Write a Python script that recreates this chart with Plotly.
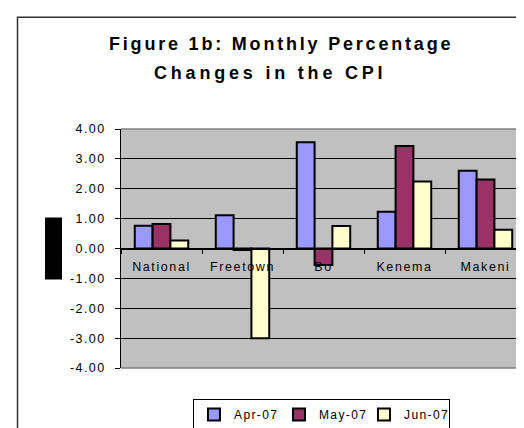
import plotly.graph_objects as go

categories = ["National", "Freetown", "Bo", "Kenema", "Makeni"]
series_names = ["Apr-07", "May-07", "Jun-07"]
apr_07 = [0.76, 1.11, 3.56, 1.23, 2.60]
may_07 = [0.82, -0.05, -0.55, 3.43, 2.31]
jun_07 = [0.27, -3.00, 0.75, 2.24, 0.63]
series_values = [apr_07, may_07, jun_07]
series_colors = ["#9999FF", "#993366", "#FFFFCC"]
y_tick_values = [-4, -3, -2, -1, 0, 1, 2, 3, 4]
y_tick_labels = ["-4.00", "-3.00", "-2.00", "-1.00", "0.00", "1.00", "2.00", "3.00", "4.00"]
title_lines = ["Figure 1b: Monthly Percentage", "Changes in the CPI"]

W, H = 524, 428
L, R, T, B = 113, 6, 121, 61
pw, ph = W - L - R, H - T - B

def px(x):
    return (x - L) / pw

def py(y):
    return (H - B - y) / ph

def spaced(s, ls):
    return '<span style="letter-spacing:%.1fpx">%s</span>' % (ls, s)

FONT = "Liberation Sans, Arial, sans-serif"

fig = go.Figure()
for name, vals, col in zip(series_names, series_values, series_colors):
    fig.add_trace(go.Bar(
        x=categories, y=vals, name=spaced(name, 1.4),
        marker=dict(color=col, line=dict(color="black", width=2)),
    ))

fig.update_layout(
    width=W, height=H,
    margin=dict(l=L, r=R, t=T, b=B, pad=0),
    paper_bgcolor="white",
    plot_bgcolor="#C0C0C0",
    barmode="group",
    bargap=0.34,
    bargroupgap=0,
    font=dict(family=FONT, size=12, color="black"),
    showlegend=True,
    legend=dict(
        orientation="h", x=0.495, xanchor="center", y=py(399), yanchor="top",
        bordercolor="black", borderwidth=1, bgcolor="white",
        font=dict(family=FONT, size=12, color="black"),
        itemwidth=30, entrywidth=40, entrywidthmode="pixels",
    ),
    xaxis=dict(
        anchor="free", position=0.5,
        showline=True, linecolor="black", linewidth=1,
        ticks="outside", ticklen=4, tickcolor="black", tickson="boundaries",
        tickvals=categories, ticktext=[spaced(c, 1.6) for c in categories],
        ticklabelstandoff=6,
        showgrid=False, zeroline=False,
        tickfont=dict(family=FONT, size=12.5, color="black"),
    ),
    yaxis=dict(
        range=[-4, 4],
        tickvals=y_tick_values, ticktext=[spaced(t, 1.4) for t in y_tick_labels],
        showline=True, linecolor="black", linewidth=1,
        ticks="outside", ticklen=5, tickcolor="black",
        ticklabelstandoff=7,
        showgrid=True, gridcolor="black", gridwidth=1,
        zeroline=True, zerolinecolor="black", zerolinewidth=1,
        tickfont=dict(family=FONT, size=12.5, color="black"),
    ),
)

# Plot area border (grey top, right and bottom edges)
for (x0, y0, x1, y1) in [(0, 1, 1, 1), (1, 0, 1, 1), (0, 0, 1, 0)]:
    fig.add_shape(type="line", xref="paper", yref="paper", x0=x0, y0=y0, x1=x1, y1=y1,
                  line=dict(color="#808080", width=1.5))

# Outer chart frame
fig.add_shape(type="rect", xref="paper", yref="paper",
              x0=px(9.5), y0=py(440), x1=px(540), y1=py(6),
              line=dict(color="#333333", width=1.5), fillcolor="rgba(0,0,0,0)", layer="below")

# Black block (axis title placeholder as in the original)
fig.add_shape(type="rect", xref="paper", yref="paper",
              x0=px(37), y0=py(276), x1=px(54), y1=py(212),
              line=dict(width=0), fillcolor="black")

# Title (two lines)
fig.add_annotation(text="<b>" + spaced(title_lines[0], 2.8) + "</b>", xref="paper", yref="paper",
                   x=px(273), y=py(33), xanchor="center", yanchor="middle", showarrow=False,
                   font=dict(family=FONT, size=18, color="black"))
fig.add_annotation(text="<b>" + spaced(title_lines[1], 3.8) + "</b>", xref="paper", yref="paper",
                   x=px(262), y=py(63), xanchor="center", yanchor="middle", showarrow=False,
                   font=dict(family=FONT, size=18, color="black"))

fig.write_html("out.html")
